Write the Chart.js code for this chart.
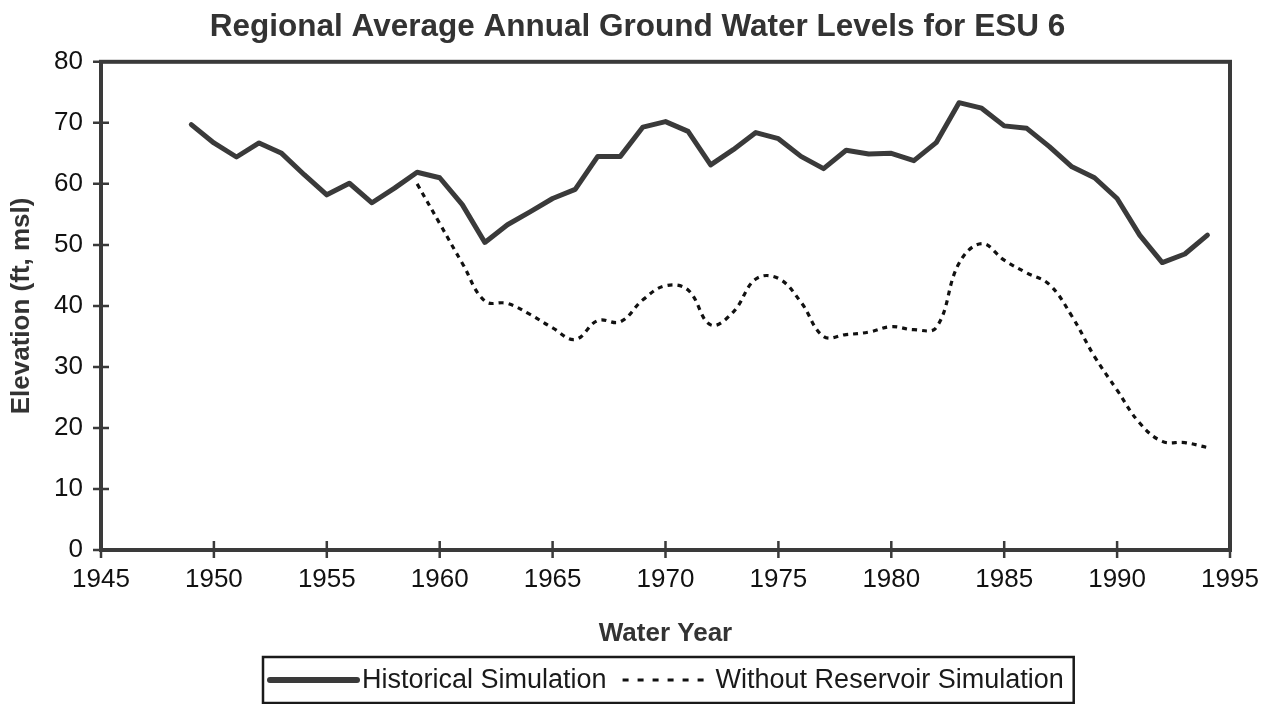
<!DOCTYPE html>
<html>
<head>
<meta charset="utf-8">
<script src="https://cdn.jsdelivr.net/npm/chart.js@4.4.1/dist/chart.umd.min.js"></script>
<style>
  html, body { margin: 0; padding: 0; background: #ffffff; }
  #wrap { width: 1275px; height: 704px; }
</style>
</head>
<body>
<div id="wrap"><canvas id="chart" width="1275" height="704"></canvas></div>
<script>
// Water years simulated
const years = [1949, 1950, 1951, 1952, 1953, 1954, 1955, 1956, 1957, 1958,
               1959, 1960, 1961, 1962, 1963, 1964, 1965, 1966, 1967, 1968,
               1969, 1970, 1971, 1972, 1973, 1974, 1975, 1976, 1977, 1978,
               1979, 1980, 1981, 1982, 1983, 1984, 1985, 1986, 1987, 1988,
               1989, 1990, 1991, 1992, 1993, 1994];

// Regional average ground water elevation (ft, msl), historical run
const historical = [69.7, 66.7, 64.4, 66.7, 65.0, 61.5, 58.2, 60.1, 56.9, 59.3,
                    61.9, 61.0, 56.6, 50.4, 53.3, 55.4, 57.6, 59.1, 64.5, 64.5,
                    69.3, 70.2, 68.6, 63.1, 65.6, 68.4, 67.4, 64.5, 62.5, 65.5,
                    64.9, 65.0, 63.8, 66.8, 73.3, 72.4, 69.5, 69.1, 66.1, 62.8,
                    61.0, 57.6, 51.6, 47.1, 48.5, 51.6];

// Same region, simulated without the reservoir (begins in 1959)
const withoutReservoir = [null, null, null, null, null, null, null, null, null, null,
                          60.0, 53.5, 47.0, 40.8, 40.4, 38.6, 36.4, 34.5, 37.6, 37.4,
                          41.0, 43.3, 42.6, 36.9, 39.0, 44.4, 44.5, 40.6, 35.0, 35.3,
                          35.7, 36.6, 36.1, 36.5, 47.0, 50.2, 47.5, 45.4, 43.5, 38.3,
                          31.7, 26.2, 20.8, 17.8, 17.6, 16.8];

const yearTicks = [1945, 1950, 1955, 1960, 1965, 1970, 1975, 1980, 1985, 1990, 1995];
const elevationTicks = [0, 10, 20, 30, 40, 50, 60, 70, 80];

const chartTitle = 'Regional Average Annual Ground Water Levels for ESU 6';
const xTitle = 'Water Year';
const yTitle = 'Elevation (ft, msl)';
const seriesNames = ['Historical Simulation', 'Without Reservoir Simulation'];

const FONT = '"Liberation Sans", Arial, Helvetica, sans-serif';
const AXIS = '#3a3a3a';

const toPoints = vals => years.map((yr, i) => ({ x: yr, y: vals[i] }));

// Box around the plot area plus tick marks crossing the axes
const framePlugin = {
  id: 'frame',
  beforeDatasetsDraw(chart) {
    const { ctx, chartArea: a, scales } = chart;
    ctx.save();
    ctx.strokeStyle = AXIS;
    ctx.lineWidth = 4;
    ctx.strokeRect(a.left, a.top, a.right - a.left, a.bottom - a.top);
    ctx.lineWidth = 2.5;
    ctx.beginPath();
    yearTicks.forEach(v => {
      const px = scales.x.getPixelForValue(v);
      ctx.moveTo(px, a.bottom - 9);
      ctx.lineTo(px, a.bottom + 8);
    });
    elevationTicks.forEach(v => {
      const py = scales.y.getPixelForValue(v);
      ctx.moveTo(a.left - 8, py);
      ctx.lineTo(a.left + 8, py);
    });
    ctx.stroke();
    ctx.restore();
  }
};

// Boxed legend below the axis title, built from the dataset styles
const boxedLegend = {
  id: 'boxedLegend',
  afterDraw(chart) {
    const { ctx, chartArea: a } = chart;
    const sets = chart.data.datasets;
    ctx.save();
    ctx.font = '27px ' + FONT;
    const sample = 90, gapText = 5, gapItem = 14, padL = 4, padR = 10;
    const widths = sets.map(d => ctx.measureText(d.label).width);
    let total = padL + padR + gapItem * (sets.length - 1);
    widths.forEach(w => { total += sample + gapText + w; });
    const top = 657, height = 46;
    const left = Math.round((a.left + a.right) / 2 - total / 2) + 3;
    ctx.strokeStyle = '#1a1a1a';
    ctx.lineWidth = 2.5;
    ctx.strokeRect(left, top, total, height);
    const cy = top + height / 2;
    let x = left + padL;
    sets.forEach((d, i) => {
      ctx.beginPath();
      ctx.setLineDash(d.borderDash ? [6, 9] : []);
      ctx.lineWidth = d.borderDash ? 3 : 6;
      ctx.strokeStyle = d.borderColor;
      ctx.lineCap = d.borderDash ? 'butt' : 'round';
      ctx.moveTo(x + (d.borderDash ? 2 : 3), cy);
      ctx.lineTo(x + sample, cy);
      ctx.stroke();
      ctx.setLineDash([]);
      x += sample + gapText;
      ctx.fillStyle = '#1a1a1a';
      ctx.textBaseline = 'middle';
      ctx.textAlign = 'left';
      ctx.fillText(d.label, x, cy + 1);
      x += widths[i] + gapItem;
    });
    ctx.restore();
  }
};

new Chart(document.getElementById('chart'), {
  type: 'line',
  data: {
    datasets: [
      {
        label: seriesNames[0],
        data: toPoints(historical),
        borderColor: '#3a3a3a',
        borderWidth: 5,
        pointRadius: 0,
        tension: 0,
        borderJoinStyle: 'round',
        borderCapStyle: 'round',
        fill: false
      },
      {
        label: seriesNames[1],
        data: toPoints(withoutReservoir),
        borderColor: '#111111',
        borderWidth: 3.2,
        borderDash: [5, 5],
        pointRadius: 0,
        tension: 0.4,
        spanGaps: false,
        fill: false
      }
    ]
  },
  options: {
    responsive: false,
    animation: false,
    devicePixelRatio: 1,
    layout: { padding: { left: 0, right: 0, top: 0, bottom: 50 } },
    plugins: {
      legend: { display: false },
      tooltip: { enabled: false },
      title: {
        display: true,
        text: chartTitle,
        color: '#333333',
        font: { family: FONT, size: 31.5, weight: 'bold' },
        padding: { top: 8, bottom: 16 }
      }
    },
    scales: {
      x: {
        type: 'linear',
        min: 1945,
        max: 1995,
        afterBuildTicks: s => { s.ticks = yearTicks.map(v => ({ value: v })); },
        afterFit: s => { s.height = 104; },
        grid: { display: false },
        border: { display: false },
        ticks: {
          color: '#111111',
          font: { family: FONT, size: 26 },
          padding: 6,
          maxRotation: 0,
          callback: v => String(v)
        },
        title: {
          display: true,
          text: xTitle,
          color: '#333333',
          font: { family: FONT, size: 26, weight: 'bold' },
          padding: { top: 0, bottom: 5 }
        }
      },
      y: {
        min: 0,
        max: 80,
        afterBuildTicks: s => { s.ticks = elevationTicks.map(v => ({ value: v })); },
        afterFit: s => { s.width = 101; },
        grid: { display: false },
        border: { display: false },
        ticks: {
          color: '#111111',
          font: { family: FONT, size: 26 },
          padding: 10,
          callback: v => String(v)
        },
        title: {
          display: true,
          text: yTitle,
          color: '#333333',
          font: { family: FONT, size: 26, weight: 'bold' },
          padding: { top: 6, bottom: 0 }
        }
      },
      // empty margin on the right of the plot frame
      yRight: {
        position: 'right',
        min: 0,
        max: 80,
        afterFit: s => { s.width = 45; },
        grid: { display: false },
        border: { display: false },
        ticks: { display: false }
      }
    }
  },
  plugins: [framePlugin, boxedLegend]
});
</script>
</body>
</html>
